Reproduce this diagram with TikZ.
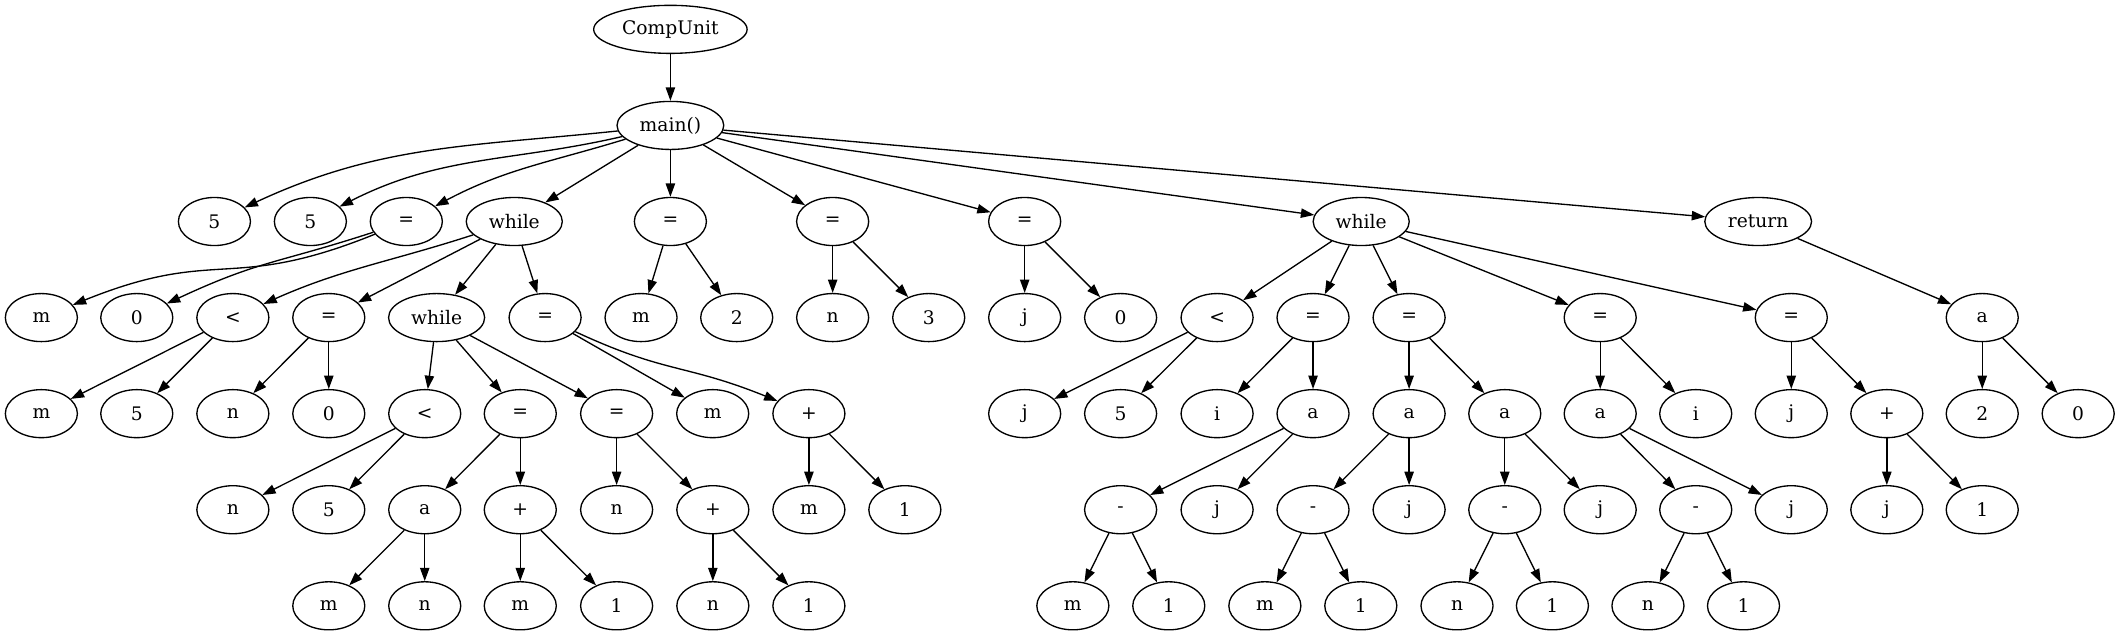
\documentclass[tikz,border=0pt]{standalone}
\usepackage{fontspec}
\setmainfont{DejaVu Serif}
\usetikzlibrary{arrows.meta,shapes.geometric}
\tikzset{
  gv/.style={ellipse, draw, line width=1pt, minimum width=54pt, minimum height=36pt, inner sep=0pt, font=\fontsize{14pt}{16pt}\selectfont},
  arr/.style={-{Triangle[length=10pt,width=7pt]}, line width=1pt}
}
\begin{document}
\begin{tikzpicture}[x=1pt,y=1pt]
\useasboundingbox (0,0) rectangle (1591,-476);
% row 0,1
\node[gv,minimum width=115pt] (cu) at (502.4,-22) {CompUnit};
\node[gv,minimum width=80pt] (main) at (502.4,-94) {main()};
% row 2
\node[gv] (r2a) at (160.7,-166) {5};
\node[gv] (r2b) at (232.6,-166) {5};
\node[gv] (asgA) at (304.5,-166) {=};
\node[gv,minimum width=72pt] (w1) at (385.4,-166) {while};
\node[gv] (asgB) at (502.4,-166) {=};
\node[gv] (asgC) at (624.0,-166) {=};
\node[gv] (asgD) at (767.9,-166) {=};
\node[gv,minimum width=72pt] (w2) at (1020.1,-166) {while};
\node[gv,minimum width=80pt] (ret) at (1317.6,-166) {return};
% row 3
\node[gv] (aAm) at (31.0,-238) {m};
\node[gv] (aA0) at (102.5,-238) {0};
\node[gv] (w1lt) at (174.5,-238) {<};
\node[gv] (w1eq) at (246.4,-238) {=};
\node[gv,minimum width=72pt] (w1b) at (327.2,-238) {while};
\node[gv] (w1eqb) at (408.5,-238) {=};
\node[gv] (Bm) at (480.4,-238) {m};
\node[gv] (B2) at (552.1,-238) {2};
\node[gv] (Cn) at (624.0,-238) {n};
\node[gv] (C3) at (696.0,-238) {3};
\node[gv] (Dj) at (767.9,-238) {j};
\node[gv] (D0) at (839.8,-238) {0};
\node[gv] (w2lt) at (912.1,-238) {<};
\node[gv] (w2e1) at (984.0,-238) {=};
\node[gv] (w2e2) at (1056.0,-238) {=};
\node[gv] (w2e3) at (1199.2,-238) {=};
\node[gv] (w2e4) at (1342.4,-238) {=};
\node[gv] (reta) at (1485.5,-238) {a};
% row 4
\node[gv] (lt1m) at (31.0,-310) {m};
\node[gv] (lt15) at (102.5,-310) {5};
\node[gv] (eq1n) at (174.5,-310) {n};
\node[gv] (eq10) at (246.4,-310) {0};
\node[gv] (wblt) at (318.3,-310) {<};
\node[gv] (wbe1) at (389.9,-310) {=};
\node[gv] (wbe2) at (462.1,-310) {=};
\node[gv] (ebm) at (534.1,-310) {m};
\node[gv] (ebp) at (606.2,-310) {+};
\node[gv] (ltj) at (767.9,-310) {j};
\node[gv] (lt5) at (839.8,-310) {5};
\node[gv] (e1i) at (912.1,-310) {i};
\node[gv] (e1a) at (984.0,-310) {a};
\node[gv] (e2a1) at (1056.0,-310) {a};
\node[gv] (e2a2) at (1127.7,-310) {a};
\node[gv] (e3a) at (1199.2,-310) {a};
\node[gv] (e3i) at (1270.8,-310) {i};
\node[gv] (e4j) at (1342.4,-310) {j};
\node[gv] (e4p) at (1414.0,-310) {+};
\node[gv] (ra2) at (1485.5,-310) {2};
\node[gv] (ra0) at (1557.4,-310) {0};
% row 5
\node[gv] (bltn) at (174.5,-382) {n};
\node[gv] (blt5) at (246.4,-382) {5};
\node[gv] (be1a) at (318.3,-382) {a};
\node[gv] (be1p) at (389.9,-382) {+};
\node[gv] (be2n) at (462.1,-382) {n};
\node[gv] (be2p) at (534.2,-382) {+};
\node[gv] (ebpm) at (606.2,-382) {m};
\node[gv] (ebp1) at (678.1,-382) {1};
\node[gv] (e1am) at (839.8,-382) {-};
\node[gv] (e1aj) at (912.1,-382) {j};
\node[gv] (a1m) at (984.0,-382) {-};
\node[gv] (a1j) at (1056.0,-382) {j};
\node[gv] (a2m) at (1127.7,-382) {-};
\node[gv] (a2j) at (1199.2,-382) {j};
\node[gv] (e3am) at (1270.8,-382) {-};
\node[gv] (e3aj) at (1342.4,-382) {j};
\node[gv] (e4pj) at (1414.0,-382) {j};
\node[gv] (e4p1) at (1485.5,-382) {1};
% row 6
\node[gv] (am) at (246.4,-454) {m};
\node[gv] (an) at (318.3,-454) {n};
\node[gv] (pm) at (389.9,-454) {m};
\node[gv] (p1) at (462.1,-454) {1};
\node[gv] (p2n) at (534.2,-454) {n};
\node[gv] (p21) at (606.2,-454) {1};
\node[gv] (m1m) at (804.0,-454) {m};
\node[gv] (m11) at (875.9,-454) {1};
\node[gv] (m2m) at (947.9,-454) {m};
\node[gv] (m21) at (1019.8,-454) {1};
\node[gv] (m3n) at (1091.9,-454) {n};
\node[gv] (m31) at (1163.4,-454) {1};
\node[gv] (m4n) at (1235.0,-454) {n};
\node[gv] (m41) at (1306.6,-454) {1};
% edges
\draw[arr] (cu) -- (main);
\draw[arr] (main) to[out=186,in=25] (r2a);
\draw[arr] (main) to[out=193,in=27] (r2b);
\draw[arr] (main) to[out=197,in=28] (asgA);
\draw[arr] (main) -- (w1);
\draw[arr] (main) -- (asgB);
\draw[arr] (main) -- (asgC);
\draw[arr] (main) -- (asgD);
\draw[arr] (main) -- (w2);
\draw[arr] (main) -- (ret);
% = (m,0)
\draw[arr] (asgA) to[out=202,in=22,looseness=1.3] (aAm);
\draw[arr] (asgA) to[out=198,in=25,looseness=1.2] (aA0);
% while 1
\draw[arr] (w1) to[out=198,in=24] (w1lt);
\draw[arr] (w1) -- (w1eq);
\draw[arr] (w1) -- (w1b);
\draw[arr] (w1) -- (w1eqb);
\draw[arr] (w1lt) -- (lt1m);
\draw[arr] (w1lt) -- (lt15);
\draw[arr] (w1eq) -- (eq1n);
\draw[arr] (w1eq) -- (eq10);
\draw[arr] (w1b) -- (wblt);
\draw[arr] (w1b) -- (wbe1);
\draw[arr] (w1b) -- (wbe2);
\draw[arr] (wblt) -- (bltn);
\draw[arr] (wblt) -- (blt5);
\draw[arr] (wbe1) -- (be1a);
\draw[arr] (wbe1) -- (be1p);
\draw[arr] (be1a) -- (am);
\draw[arr] (be1a) -- (an);
\draw[arr] (be1p) -- (pm);
\draw[arr] (be1p) -- (p1);
\draw[arr] (wbe2) -- (be2n);
\draw[arr] (wbe2) -- (be2p);
\draw[arr] (be2p) -- (p2n);
\draw[arr] (be2p) -- (p21);
\draw[arr] (w1eqb) -- (ebm);
\draw[arr] (w1eqb) to[out=-25,in=158,looseness=1.2] (ebp);
\draw[arr] (ebp) -- (ebpm);
\draw[arr] (ebp) -- (ebp1);
% simple assignments
\draw[arr] (asgB) -- (Bm);
\draw[arr] (asgB) -- (B2);
\draw[arr] (asgC) -- (Cn);
\draw[arr] (asgC) -- (C3);
\draw[arr] (asgD) -- (Dj);
\draw[arr] (asgD) -- (D0);
% while 2
\draw[arr] (w2) -- (w2lt);
\draw[arr] (w2) -- (w2e1);
\draw[arr] (w2) -- (w2e2);
\draw[arr] (w2) -- (w2e3);
\draw[arr] (w2) -- (w2e4);
\draw[arr] (w2lt) -- (ltj);
\draw[arr] (w2lt) -- (lt5);
\draw[arr] (w2e1) -- (e1i);
\draw[arr] (w2e1) -- (e1a);
\draw[arr] (e1a) -- (e1am);
\draw[arr] (e1a) -- (e1aj);
\draw[arr] (e1am) -- (m1m);
\draw[arr] (e1am) -- (m11);
\draw[arr] (w2e2) -- (e2a1);
\draw[arr] (w2e2) -- (e2a2);
\draw[arr] (e2a1) -- (a1m);
\draw[arr] (e2a1) -- (a1j);
\draw[arr] (a1m) -- (m2m);
\draw[arr] (a1m) -- (m21);
\draw[arr] (e2a2) -- (a2m);
\draw[arr] (e2a2) -- (a2j);
\draw[arr] (a2m) -- (m3n);
\draw[arr] (a2m) -- (m31);
\draw[arr] (w2e3) -- (e3a);
\draw[arr] (w2e3) -- (e3i);
\draw[arr] (e3a) -- (e3am);
\draw[arr] (e3a) -- (e3aj);
\draw[arr] (e3am) -- (m4n);
\draw[arr] (e3am) -- (m41);
\draw[arr] (w2e4) -- (e4j);
\draw[arr] (w2e4) -- (e4p);
\draw[arr] (e4p) -- (e4pj);
\draw[arr] (e4p) -- (e4p1);
% return
\draw[arr] (ret) -- (reta);
\draw[arr] (reta) -- (ra2);
\draw[arr] (reta) -- (ra0);
\end{tikzpicture}
\end{document}
